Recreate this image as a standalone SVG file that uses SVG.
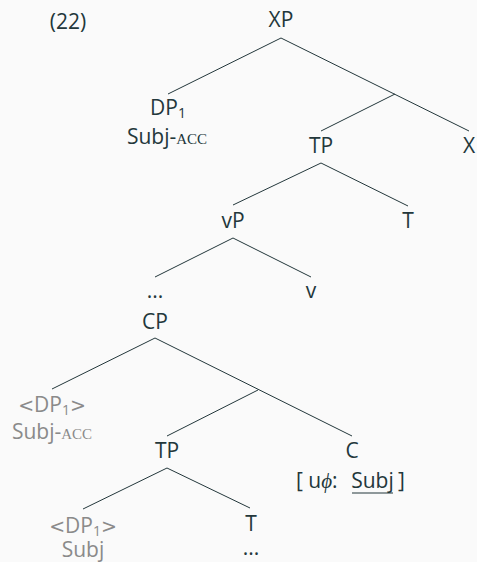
<svg xmlns="http://www.w3.org/2000/svg" width="477" height="562" viewBox="0 0 477 562">
<style>
.t{font-family:"Open Sans","Noto Sans","DejaVu Sans",sans-serif;font-size:21px;fill:#23373b;text-anchor:middle}
.s{text-anchor:start}
.g{fill:#8a8a8a}
.sc{font-family:"Liberation Serif",serif;font-size:15px}
.sub{font-size:14px}
.m{font-family:"DejaVu Sans",sans-serif;font-size:19px}
.e line{stroke:#23373b;stroke-width:1}
</style>
<rect width="477" height="562" fill="#fafafa"/>
<text class="t" x="68" y="29">(22)</text>
<g class="e" id="edges">
<line x1="281" y1="38" x2="168" y2="94"/>
<line x1="281" y1="38" x2="469" y2="131"/>
<line x1="395" y1="94" x2="321" y2="131"/>
<line x1="321" y1="163" x2="233" y2="205"/>
<line x1="321" y1="163" x2="408" y2="206"/>
<line x1="233" y1="238" x2="155" y2="277"/>
<line x1="233" y1="238" x2="311" y2="277"/>
<line x1="155" y1="338" x2="52" y2="389"/>
<line x1="155" y1="338" x2="352" y2="436"/>
<line x1="258" y1="390" x2="167" y2="436"/>
<line x1="167" y1="468" x2="83" y2="509"/>
<line x1="167" y1="468" x2="250" y2="508"/>
</g>
<g id="XP"><text class="t" x="281" y="27">XP</text></g>
<g id="DP1"><text class="t" x="168" y="115">DP<tspan class="sub" dy="3">1</tspan></text>
<text class="t" x="167" y="144">Subj-<tspan class="sc">ACC</tspan></text></g>
<g id="TP1"><text class="t" x="321" y="153">TP</text></g>
<g id="X"><text class="t" x="469" y="153">X</text></g>
<g id="vP"><text class="t" x="233" y="228">vP</text></g>
<g id="T1"><text class="t" x="408" y="228">T</text></g>
<g id="dots1"><text class="t" x="155" y="298">...</text></g>
<g id="v"><text class="t" x="311" y="298">v</text></g>
<g id="CP"><text class="t" x="155" y="329">CP</text></g>
<g id="DP1b"><text class="t g" x="52" y="412"><tspan class="m">&lt;</tspan>DP<tspan class="sub" dy="3">1</tspan><tspan class="m" dy="-3">&gt;</tspan></text>
<text class="t g" x="52" y="439">Subj-<tspan class="sc">ACC</tspan></text></g>
<g id="TP2"><text class="t" x="167" y="458">TP</text></g>
<g id="C"><text class="t" x="352" y="458">C</text>
<text class="t s" x="296" y="488">[ u<tspan font-family="Liberation Serif,serif" font-style="italic">ϕ</tspan>:</text>
<text class="t" x="372.5" y="488">Subj</text>
<text class="t s" x="398" y="488">]</text>
<line x1="352" y1="493" x2="393" y2="493" stroke="#23373b" stroke-width="1"/></g>
<g id="DP1c"><text class="t g" x="83" y="533"><tspan class="m">&lt;</tspan>DP<tspan class="sub" dy="3">1</tspan><tspan class="m" dy="-3">&gt;</tspan></text>
<text class="t g" x="83" y="557">Subj</text></g>
<g id="T2"><text class="t" x="251" y="531">T</text>
<text class="t" x="251" y="555">...</text></g>
</svg>
